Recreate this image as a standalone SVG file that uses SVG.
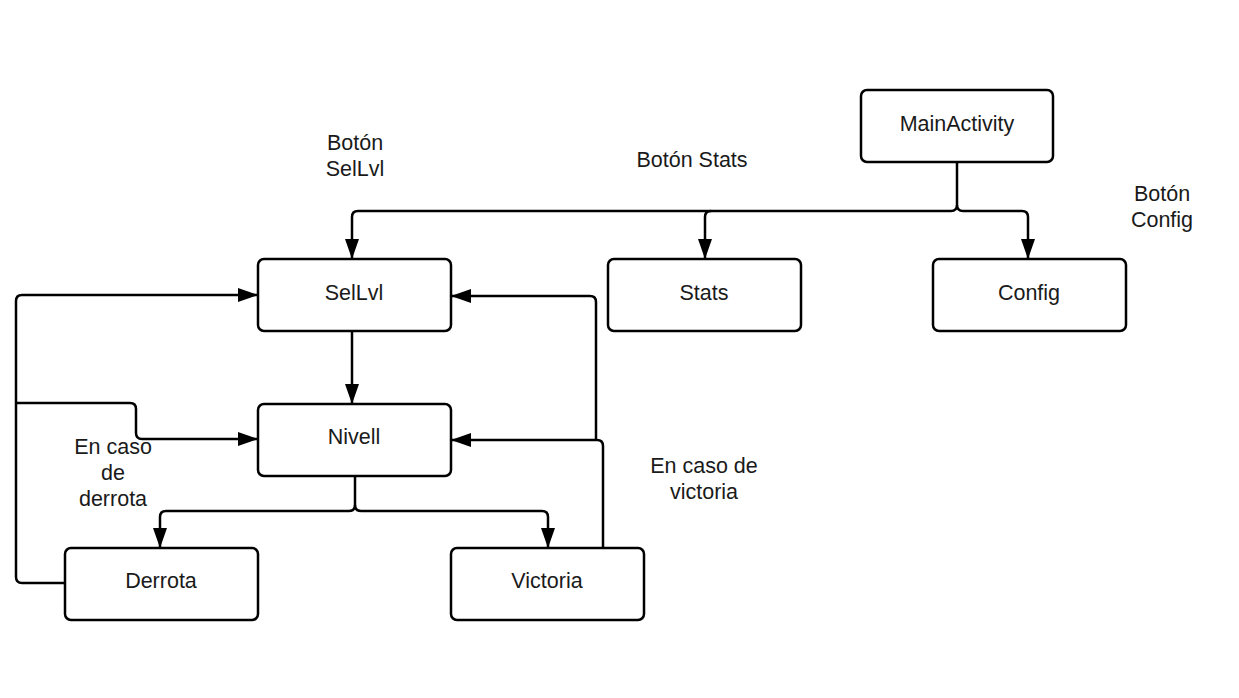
<svg xmlns="http://www.w3.org/2000/svg" width="1239" height="698" viewBox="0 0 1239 698">
<style>
.n{fill:#fff;stroke:#000;stroke-width:2.5}
.t{font-family:"Liberation Sans",Arial,sans-serif;font-size:21.5px;fill:#1a1a1a;text-anchor:middle}
.c{fill:none;stroke:#000;stroke-width:2.5;stroke-linejoin:round}
</style>
<defs>
<marker id="a" viewBox="0 0 20 14" refX="20" refY="7" markerWidth="20" markerHeight="14" markerUnits="userSpaceOnUse" orient="auto">
<path d="M0,0 L20,7 L0,14 Z" fill="#000"/>
</marker>
</defs>
<rect width="1239" height="698" fill="#fff"/>
<g id="connectors">
<path class="c" d="M957,162 V205 Q957,211 951,211 H358 Q352,211 352,217 V259" marker-end="url(#a)"/>
<path class="c" d="M957,205 Q957,211 963,211 H1022 Q1028,211 1028,217 V259" marker-end="url(#a)"/>
<path class="c" d="M711,211 Q705,211 705,217 V259" marker-end="url(#a)"/>
<path class="c" d="M352,331 V404" marker-end="url(#a)"/>
<path class="c" d="M355,476 V505 Q355,511 349,511 H166 Q160,511 160,517 V548" marker-end="url(#a)"/>
<path class="c" d="M355,505 Q355,511 361,511 H542 Q548,511 548,517 V548" marker-end="url(#a)"/>
<path class="c" d="M65,583 H22 Q16,583 16,577 V301 Q16,295 22,295 H258" marker-end="url(#a)"/>
<path class="c" d="M16,403 H130 Q136,403 136,409 V433 Q136,439 142,439 H258" marker-end="url(#a)"/>
<path class="c" d="M603,548 V446 Q603,440 597,440 H451" marker-end="url(#a)"/>
<path class="c" d="M596,440 V302 Q596,296 590,296 H451" marker-end="url(#a)"/>
</g>
<g id="mainactivity"><rect class="n" x="861" y="90" width="192" height="72" rx="6"/><text class="t" x="957" y="131">MainActivity</text></g>
<g id="sellvl"><rect class="n" x="258" y="259" width="193" height="72" rx="6"/><text class="t" x="354" y="300">SelLvl</text></g>
<g id="stats"><rect class="n" x="608" y="259" width="193" height="72" rx="6"/><text class="t" x="704" y="300">Stats</text></g>
<g id="config"><rect class="n" x="933" y="259" width="193" height="72" rx="6"/><text class="t" x="1029" y="300">Config</text></g>
<g id="nivell"><rect class="n" x="258" y="404" width="193" height="72" rx="6"/><text class="t" x="354" y="444">Nivell</text></g>
<g id="derrota"><rect class="n" x="65" y="548" width="193" height="72" rx="6"/><text class="t" x="161" y="588">Derrota</text></g>
<g id="victoria"><rect class="n" x="451" y="548" width="193" height="72" rx="6"/><text class="t" x="547" y="588">Victoria</text></g>
<g id="labels">
<text class="t" x="355" y="150">Botón</text>
<text class="t" x="355" y="176">SelLvl</text>
<text class="t" x="692" y="167">Botón Stats</text>
<text class="t" x="1162" y="201">Botón</text>
<text class="t" x="1162" y="227">Config</text>
<text class="t" x="113" y="454">En caso</text>
<text class="t" x="113" y="480">de</text>
<text class="t" x="113" y="506">derrota</text>
<text class="t" x="704" y="473">En caso de</text>
<text class="t" x="704" y="499">victoria</text>
</g>
</svg>
